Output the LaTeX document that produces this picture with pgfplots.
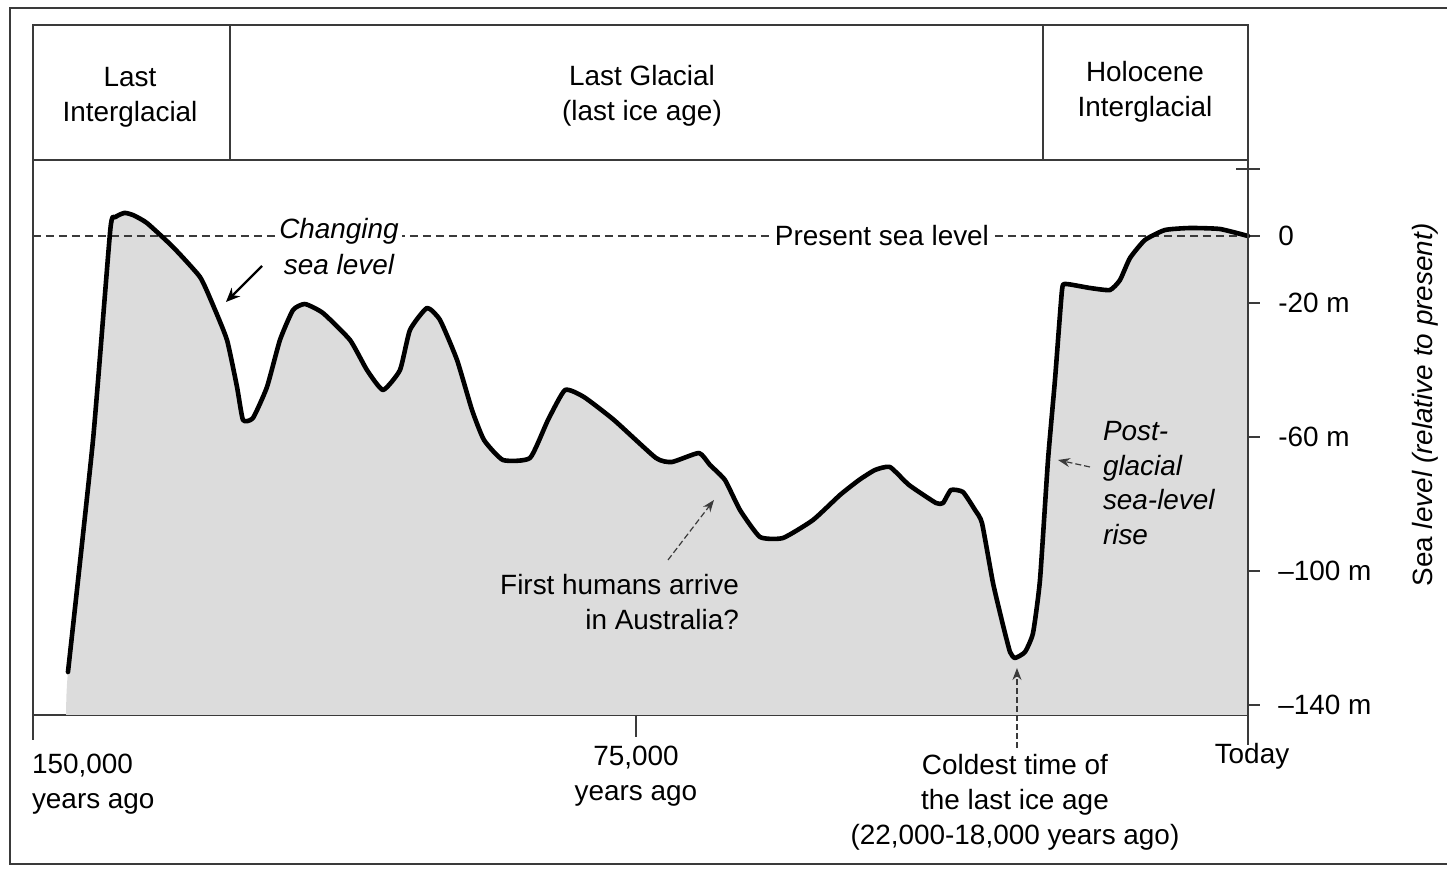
\documentclass[border=0pt]{standalone}
\usepackage{fontspec}
\setmainfont{Liberation Sans}
\usepackage{pgfplots}
\pgfplotsset{compat=1.18}
\usetikzlibrary{arrows.meta}

\pgfplotstableread{
X Y
145.68 -130.15
142.59 -60.90
140.45 2.0
139.85 5.6
138.70 6.9
137.60 6.2
135.93 3.88
132.72 -3.28
129.38 -12.24
127.78 -20.60
126.05 -31.04
124.81 -45.07
124.07 -54.93
122.84 -54.33
121.11 -45.07
119.51 -31.04
117.90 -22.09
116.42 -20.30
114.20 -22.99
110.86 -31.04
108.77 -40.00
106.79 -45.97
104.69 -40.00
103.46 -28.06
101.36 -21.49
99.75 -25.07
97.65 -37.01
95.80 -51.94
94.32 -60.90
91.98 -66.87
88.64 -66.27
86.42 -54.93
84.32 -45.97
81.98 -48.06
78.27 -54.93
73.09 -66.27
71.11 -67.46
67.78 -64.78
66.42 -68.36
64.57 -72.84
62.72 -81.79
60.25 -89.85
57.41 -90.15
53.70 -84.78
50.37 -77.31
48.02 -72.84
46.05 -69.85
44.20 -68.96
41.85 -74.33
38.52 -79.70
37.65 -79.70
36.67 -75.82
35.19 -76.42
33.70 -81.79
32.84 -85.67
31.48 -103.58
30.25 -116.12
29.38 -124.18
28.77 -125.97
27.53 -124.18
26.54 -118.51
25.68 -102.69
24.69 -66.87
23.83 -42.99
22.96 -16.12
22.47 -14.33
19.51 -15.52
17.04 -16.12
15.80 -13.13
14.57 -6.57
12.72 -1.19
10.25 1.79
7.16 2.39
3.46 2.09
0 0
}\sealevel

\pgfplotstableread{
X Y
145.9 -143
145.68 -130.15
142.59 -60.90
140.45 2.0
139.85 5.6
138.70 6.9
137.60 6.2
135.93 3.88
132.72 -3.28
129.38 -12.24
127.78 -20.60
126.05 -31.04
124.81 -45.07
124.07 -54.93
122.84 -54.33
121.11 -45.07
119.51 -31.04
117.90 -22.09
116.42 -20.30
114.20 -22.99
110.86 -31.04
108.77 -40.00
106.79 -45.97
104.69 -40.00
103.46 -28.06
101.36 -21.49
99.75 -25.07
97.65 -37.01
95.80 -51.94
94.32 -60.90
91.98 -66.87
88.64 -66.27
86.42 -54.93
84.32 -45.97
81.98 -48.06
78.27 -54.93
73.09 -66.27
71.11 -67.46
67.78 -64.78
66.42 -68.36
64.57 -72.84
62.72 -81.79
60.25 -89.85
57.41 -90.15
53.70 -84.78
50.37 -77.31
48.02 -72.84
46.05 -69.85
44.20 -68.96
41.85 -74.33
38.52 -79.70
37.65 -79.70
36.67 -75.82
35.19 -76.42
33.70 -81.79
32.84 -85.67
31.48 -103.58
30.25 -116.12
29.38 -124.18
28.77 -125.97
27.53 -124.18
26.54 -118.51
25.68 -102.69
24.69 -66.87
23.83 -42.99
22.96 -16.12
22.47 -14.33
19.51 -15.52
17.04 -16.12
15.80 -13.13
14.57 -6.57
12.72 -1.19
10.25 1.79
7.16 2.39
3.46 2.09
0 0
}\sealevelfill

\definecolor{frame}{HTML}{3A3A3A}
\definecolor{areafill}{HTML}{DCDCDC}

\begin{document}
\begin{tikzpicture}[font=\fontsize{14}{17.5}\selectfont]
\path[use as bounding box] (0,0) rectangle (723.5bp,434.5bp);

\begin{axis}[
  at={(16.5bp,77bp)}, anchor=south west,
  scale only axis, width=607.5bp, height=277.5bp,
  xmin=0, xmax=150, x dir=reverse,
  ymin=-142.99, ymax=22.69,
  axis x line=bottom, axis y line=right,
  axis line style={-, frame, line width=0.7bp},
  xtick=\empty,
  ytick={-140,-100,-60,-20,0,20},
  yticklabels={{–140 m},{–100 m},{-60 m},{-20 m},{0},{}},
  tick align=center,
  major tick length=12bp,
  tick style={frame, line width=0.7bp},
  yticklabel style={anchor=west, inner sep=0pt, xshift=9bp, font=\fontsize{14}{17.5}\selectfont},
  clip=false,
]
\addplot[fill=areafill, draw=none, smooth, tension=0.3] table[x=X,y=Y] {\sealevelfill} -- (axis cs:0,-142.99) -- (axis cs:145.9,-142.99) -- cycle;
\draw[frame, line width=0.6bp, dash pattern=on 4bp off 2.5bp] (axis cs:150,0) -- (axis cs:0,0);
\addplot[black, line width=2.3bp, line join=round, line cap=round, smooth, tension=0.3] table[x=X,y=Y] {\sealevel};
\end{axis}

\begin{scope}[x=0.5bp,y=-0.5bp,shift={(0,434.5bp)}]
% outer frame
\draw[frame,line width=0.6bp] (1447,8) -- (10,8) -- (10,864) -- (1447,864);

% header box
\draw[frame,line width=0.6bp] (33,740) -- (33,25) -- (1248,25) -- (1248,745);
\draw[frame,line width=0.6bp] (33,160) -- (1248,160);
\draw[frame,line width=0.6bp] (230,25) -- (230,160);
\draw[frame,line width=0.6bp] (1043,25) -- (1043,160);
\draw[frame,line width=0.7bp] (636,715) -- (636,737);

\node[align=center] at (130,97) {Last\\Interglacial};
\node[align=center] at (642,96) {Last Glacial\\(last ice age)};
\node[align=center] at (1145,92) {Holocene\\Interglacial};

% annotations
\node[fill=white, inner sep=1.5bp, font=\fontsize{14}{17.5}\selectfont\itshape] at (339,231) {Changing};
\node[font=\fontsize{14}{17.5}\selectfont\itshape] at (339,265) {sea level};
\node[fill=white, inner sep=1.5bp] at (882,236) {Present sea level};
\draw[black, line width=1.2bp, -{Stealth[length=7bp,width=6bp]}] (262,266) -- (226,302);

\node[align=right, anchor=east] at (746,602) {First humans arrive\\in Australia?};
\draw[frame, line width=0.6bp, dash pattern=on 3bp off 1.5bp, -{Stealth[length=6bp,width=4.5bp]}] (668,560) -- (714,500);

\node[align=left, anchor=west, font=\fontsize{14}{17.5}\selectfont\itshape] at (1096,483) {Post-\\glacial\\sea-level\\rise};
\draw[frame, line width=0.6bp, dash pattern=on 3bp off 1.5bp, -{Stealth[length=6bp,width=4.5bp]}] (1090,467) -- (1058,460);

\draw[frame, line width=0.6bp, dash pattern=on 3bp off 1.5bp, -{Stealth[length=6bp,width=4.5bp]}] (1017,748) -- (1017,668);
\node[align=center] at (1015,802) {Coldest time of\\the last ice age\\(22,000-18,000 years ago)};

\node[align=left, anchor=west] at (25,784) {150,000\\years ago};
\node[align=center] at (636,776) {75,000\\years ago};
\node at (1252,756) {Today};

\node[rotate=90] at (1425,405) {Sea \textit{level (relative to present)}};
\end{scope}
\end{tikzpicture}
\end{document}
